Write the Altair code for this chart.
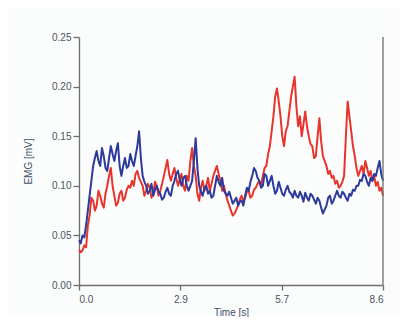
import altair as alt
import pandas as pd

time_s = [0.00, 0.05, 0.10, 0.15, 0.20, 0.25, 0.30, 0.35, 0.40, 0.45,
          0.50, 0.55, 0.60, 0.65, 0.70, 0.75, 0.80, 0.85, 0.90, 0.95,
          1.00, 1.05, 1.10, 1.15, 1.20, 1.25, 1.30, 1.35, 1.40, 1.45,
          1.50, 1.55, 1.60, 1.65, 1.70, 1.75, 1.80, 1.85, 1.90, 1.95,
          2.00, 2.05, 2.10, 2.15, 2.20, 2.25, 2.30, 2.35, 2.40, 2.45,
          2.50, 2.55, 2.60, 2.65, 2.70, 2.75, 2.80, 2.85, 2.90, 2.95,
          3.00, 3.05, 3.10, 3.15, 3.20, 3.25, 3.30, 3.35, 3.40, 3.45,
          3.50, 3.55, 3.60, 3.65, 3.70, 3.75, 3.80, 3.85, 3.90, 3.95,
          4.00, 4.05, 4.10, 4.15, 4.20, 4.25, 4.30, 4.35, 4.40, 4.45,
          4.50, 4.55, 4.60, 4.65, 4.70, 4.75, 4.80, 4.85, 4.90, 4.95,
          5.00, 5.05, 5.10, 5.15, 5.20, 5.25, 5.30, 5.35, 5.40, 5.45,
          5.50, 5.55, 5.60, 5.65, 5.70, 5.75, 5.80, 5.85, 5.90, 5.95,
          6.00, 6.05, 6.10, 6.15, 6.20, 6.25, 6.30, 6.35, 6.40, 6.45,
          6.50, 6.55, 6.60, 6.65, 6.70, 6.75, 6.80, 6.85, 6.90, 6.95,
          7.00, 7.05, 7.10, 7.15, 7.20, 7.25, 7.30, 7.35, 7.40, 7.45,
          7.50, 7.55, 7.60, 7.65, 7.70, 7.75, 7.80, 7.85, 7.90, 7.95,
          8.00, 8.05, 8.10, 8.15, 8.20, 8.25, 8.30, 8.35, 8.40, 8.45,
          8.50, 8.55, 8.60]

red_mv = [0.035, 0.033, 0.035, 0.040, 0.038, 0.060, 0.070, 0.088, 0.085, 0.075,
          0.080, 0.095, 0.090, 0.082, 0.078, 0.092, 0.100, 0.110, 0.118, 0.100,
          0.090, 0.080, 0.083, 0.092, 0.095, 0.085, 0.088, 0.096, 0.100, 0.098,
          0.105, 0.100, 0.112, 0.115, 0.108, 0.104, 0.100, 0.090, 0.095, 0.102,
          0.098, 0.088, 0.092, 0.104, 0.100, 0.090, 0.095, 0.102, 0.110, 0.118,
          0.126, 0.112, 0.105, 0.112, 0.118, 0.108, 0.100, 0.106, 0.112, 0.100,
          0.095, 0.110, 0.105, 0.125, 0.138, 0.120, 0.110, 0.092, 0.085, 0.098,
          0.105, 0.095, 0.100, 0.108, 0.095, 0.102, 0.110, 0.115, 0.120, 0.112,
          0.105, 0.095, 0.100, 0.092, 0.085, 0.080, 0.075, 0.070, 0.072, 0.076,
          0.080, 0.086, 0.090, 0.084, 0.088, 0.094, 0.095, 0.088, 0.090, 0.096,
          0.098, 0.102, 0.105, 0.100, 0.110, 0.118, 0.120, 0.132, 0.140, 0.155,
          0.170, 0.190, 0.198, 0.185, 0.170, 0.150, 0.140, 0.155, 0.160, 0.175,
          0.190, 0.200, 0.210, 0.180, 0.160, 0.170, 0.150, 0.162, 0.175, 0.160,
          0.150, 0.142, 0.140, 0.128, 0.130, 0.150, 0.168, 0.145, 0.130, 0.125,
          0.120, 0.112, 0.115, 0.108, 0.110, 0.102, 0.105, 0.098, 0.100, 0.104,
          0.110, 0.150, 0.185, 0.170, 0.155, 0.140, 0.130, 0.118, 0.110, 0.115,
          0.120, 0.112, 0.125, 0.118, 0.110, 0.115, 0.105, 0.110, 0.100, 0.104,
          0.095, 0.098, 0.090]

blue_mv = [0.045, 0.042, 0.050, 0.048, 0.060, 0.075, 0.090, 0.105, 0.120, 0.128,
           0.135, 0.125, 0.120, 0.138, 0.130, 0.118, 0.115, 0.128, 0.140, 0.132,
           0.125, 0.135, 0.143, 0.120, 0.110, 0.120, 0.128, 0.118, 0.120, 0.132,
           0.125, 0.120, 0.130, 0.140, 0.155, 0.128, 0.110, 0.104, 0.100, 0.092,
           0.095, 0.102, 0.090, 0.096, 0.100, 0.094, 0.092, 0.086, 0.088, 0.094,
           0.098, 0.092, 0.090, 0.100, 0.105, 0.112, 0.115, 0.106, 0.100, 0.108,
           0.110, 0.100, 0.095, 0.100, 0.105, 0.125, 0.148, 0.118, 0.100, 0.094,
           0.090, 0.098, 0.100, 0.092, 0.095, 0.088, 0.090, 0.100, 0.110, 0.104,
           0.100, 0.108, 0.095, 0.092, 0.090, 0.094, 0.088, 0.082, 0.085, 0.088,
           0.080, 0.084, 0.085, 0.080, 0.090, 0.098, 0.095, 0.104, 0.110, 0.118,
           0.115, 0.108, 0.105, 0.098, 0.100, 0.112, 0.110, 0.100, 0.105, 0.110,
           0.100, 0.092, 0.095, 0.104, 0.098, 0.092, 0.090, 0.096, 0.100, 0.094,
           0.092, 0.088, 0.095, 0.090, 0.088, 0.094, 0.090, 0.084, 0.093, 0.088,
           0.085, 0.092, 0.090, 0.086, 0.082, 0.088, 0.085, 0.078, 0.072, 0.076,
           0.080, 0.088, 0.090, 0.082, 0.085, 0.090, 0.095, 0.090, 0.088, 0.094,
           0.092, 0.088, 0.085, 0.092, 0.090, 0.096, 0.095, 0.100, 0.100, 0.106,
           0.105, 0.112, 0.110, 0.104, 0.100, 0.108, 0.105, 0.112, 0.110, 0.118,
           0.125, 0.112, 0.105]

x_ticks = [0.0, 8.6 / 3, 2 * 8.6 / 3, 8.6]
y_ticks = [0.0, 0.05, 0.10, 0.15, 0.20, 0.25]

df = pd.concat([
    pd.DataFrame({"t": time_s, "v": red_mv, "s": "red"}),
    pd.DataFrame({"t": time_s, "v": blue_mv, "s": "blue"}),
])

lines = alt.Chart(df).mark_line(strokeWidth=2, strokeJoin="round").encode(
    x=alt.X("t:Q", scale=alt.Scale(domain=[0, 8.6], nice=False, zero=False),
            axis=alt.Axis(values=x_ticks, format=".1f", title="Time [s]",
                          grid=False, tickSize=5, labelPadding=4, titlePadding=3)),
    y=alt.Y("v:Q", scale=alt.Scale(domain=[0, 0.25], nice=False),
            axis=alt.Axis(values=y_ticks, format=".2f", title="EMG [mV]",
                          grid=False, tickSize=6, labelPadding=2, titlePadding=18)),
    color=alt.Color("s:N", scale=alt.Scale(domain=["red", "blue"],
                                           range=["#e8342c", "#2c3a9c"]),
                    legend=None),
    order=alt.Order("s:N", sort="descending"),
)

right_line = alt.Chart(pd.DataFrame({"t": [8.6]})).mark_rule(
    color="#6e6e6e", strokeWidth=1.3
).encode(x="t:Q")

chart = alt.layer(lines, right_line).properties(
    width=304, height=248,
    autosize=alt.AutoSizeParams(type="none"),
    padding={"left": 71, "top": 29, "right": 16, "bottom": 32},
    background="#fbfcfc",
).configure_view(stroke=None).configure_axis(
    domainColor="#6e6e6e", domainWidth=1.3, tickColor="#6e6e6e", tickWidth=1.3,
    labelFont="Liberation Sans", labelFontSize=10, labelColor="#4a5560",
    titleFont="Liberation Sans", titleFontSize=10, titleColor="#3d4f66",
    titleFontWeight="normal",
)

chart.save("out.html", embed_options={"renderer": "svg", "actions": False})
